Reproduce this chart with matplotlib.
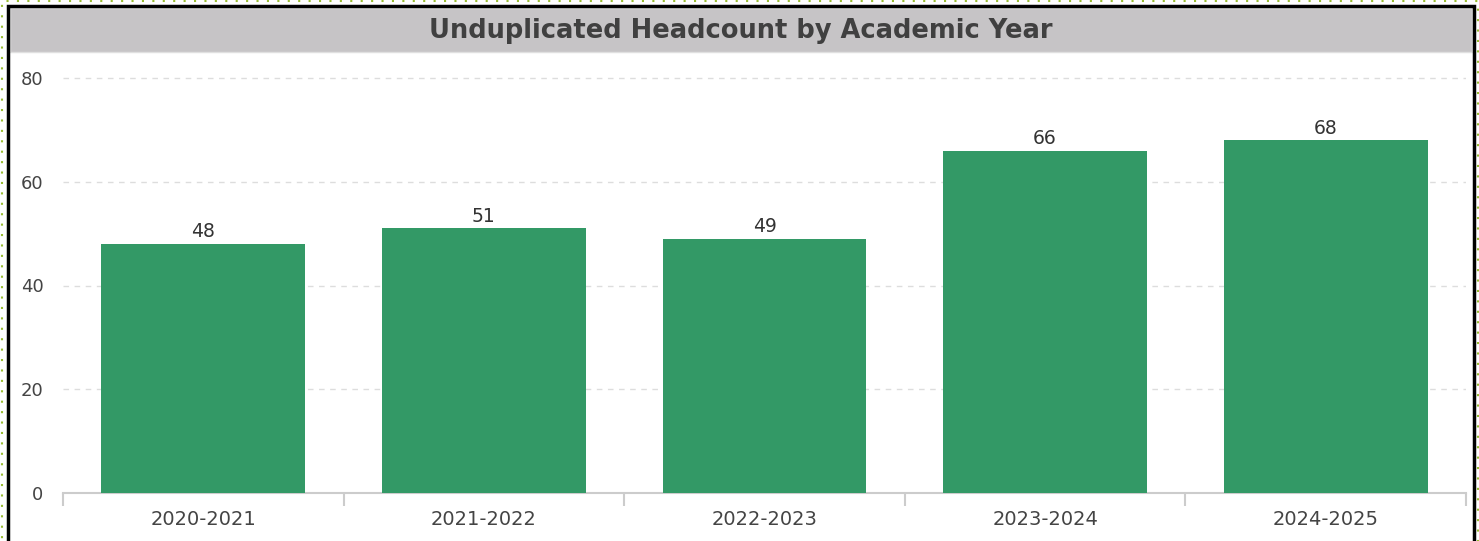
import matplotlib.pyplot as plt
from matplotlib.patches import Rectangle

plt.rcParams['font.family'] = ['DejaVu Sans']

# data
years = ['2020-2021', '2021-2022', '2022-2023', '2023-2024', '2024-2025']
headcount = [48, 51, 49, 66, 68]
yticks = [0, 20, 40, 60, 80]

W, H = 1479, 541
fig = plt.figure(figsize=(W / 100, H / 100), dpi=100)

# plot area in pixels
left, right, bottom, top = 63, 1466, 493, 60
ax = fig.add_axes([left / W, 1 - bottom / H, (right - left) / W, (bottom - top) / H])

x = range(len(years))
bars = ax.bar(x, headcount, width=0.727, color='#339966', zorder=3)
for b, v in zip(bars, headcount):
    ax.text(b.get_x() + b.get_width() / 2, v + 0.5, str(v), ha='center', va='bottom',
            fontsize=13.5, color='#333333')

ax.set_xlim(-0.5, len(years) - 0.5)
ax.set_ylim(0, 80 * (bottom - top) / (bottom - 78))
ax.set_yticks(yticks)
ax.set_xticks(list(x))
ax.set_xticklabels(years)
ax.set_xticks([i - 0.5 for i in range(len(years) + 1)], minor=True)
ax.tick_params(axis='x', which='major', length=0, labelsize=14, labelcolor='#444444', pad=12)
ax.tick_params(axis='x', which='minor', length=9, color='#cccccc', width=1.5)
ax.tick_params(axis='y', length=0, labelsize=13, labelcolor='#444444', pad=14)
ax.grid(axis='y', linestyle=(0, (4, 4)), color='#dddddd', linewidth=1, zorder=0)
for s in ['top', 'right', 'left']:
    ax.spines[s].set_visible(False)
ax.spines['bottom'].set_color('#cccccc')
ax.spines['bottom'].set_linewidth(1.5)

# title band
fig.patches.append(Rectangle((10 / W, 1 - 52 / H), 1462 / W, 44 / H, transform=fig.transFigure,
                             facecolor='#c6c4c6', edgecolor='#e0e0e0', linewidth=1, zorder=0))
fig.text((10 + 1472) / 2 / W, 1 - 31 / H, 'Unduplicated Headcount by Academic Year',
         ha='center', va='center', fontsize=18.5, fontweight='bold', color='#404040')

# outer black frame
fig.patches.append(Rectangle((8 / W, -0.05), 1466 / W, 1.05 - 6 / H, transform=fig.transFigure,
                             facecolor='none', edgecolor='black', linewidth=2.5, zorder=5))
# dotted green frame
fig.patches.append(Rectangle((1.5 / W, -0.05), (W - 3) / W, 1.05 - 1.5 / H, transform=fig.transFigure,
                             facecolor='none', edgecolor='#99bb33', linewidth=1.5,
                             linestyle=(0, (1, 4)), zorder=5))

fig.savefig('out.png', dpi=100)
